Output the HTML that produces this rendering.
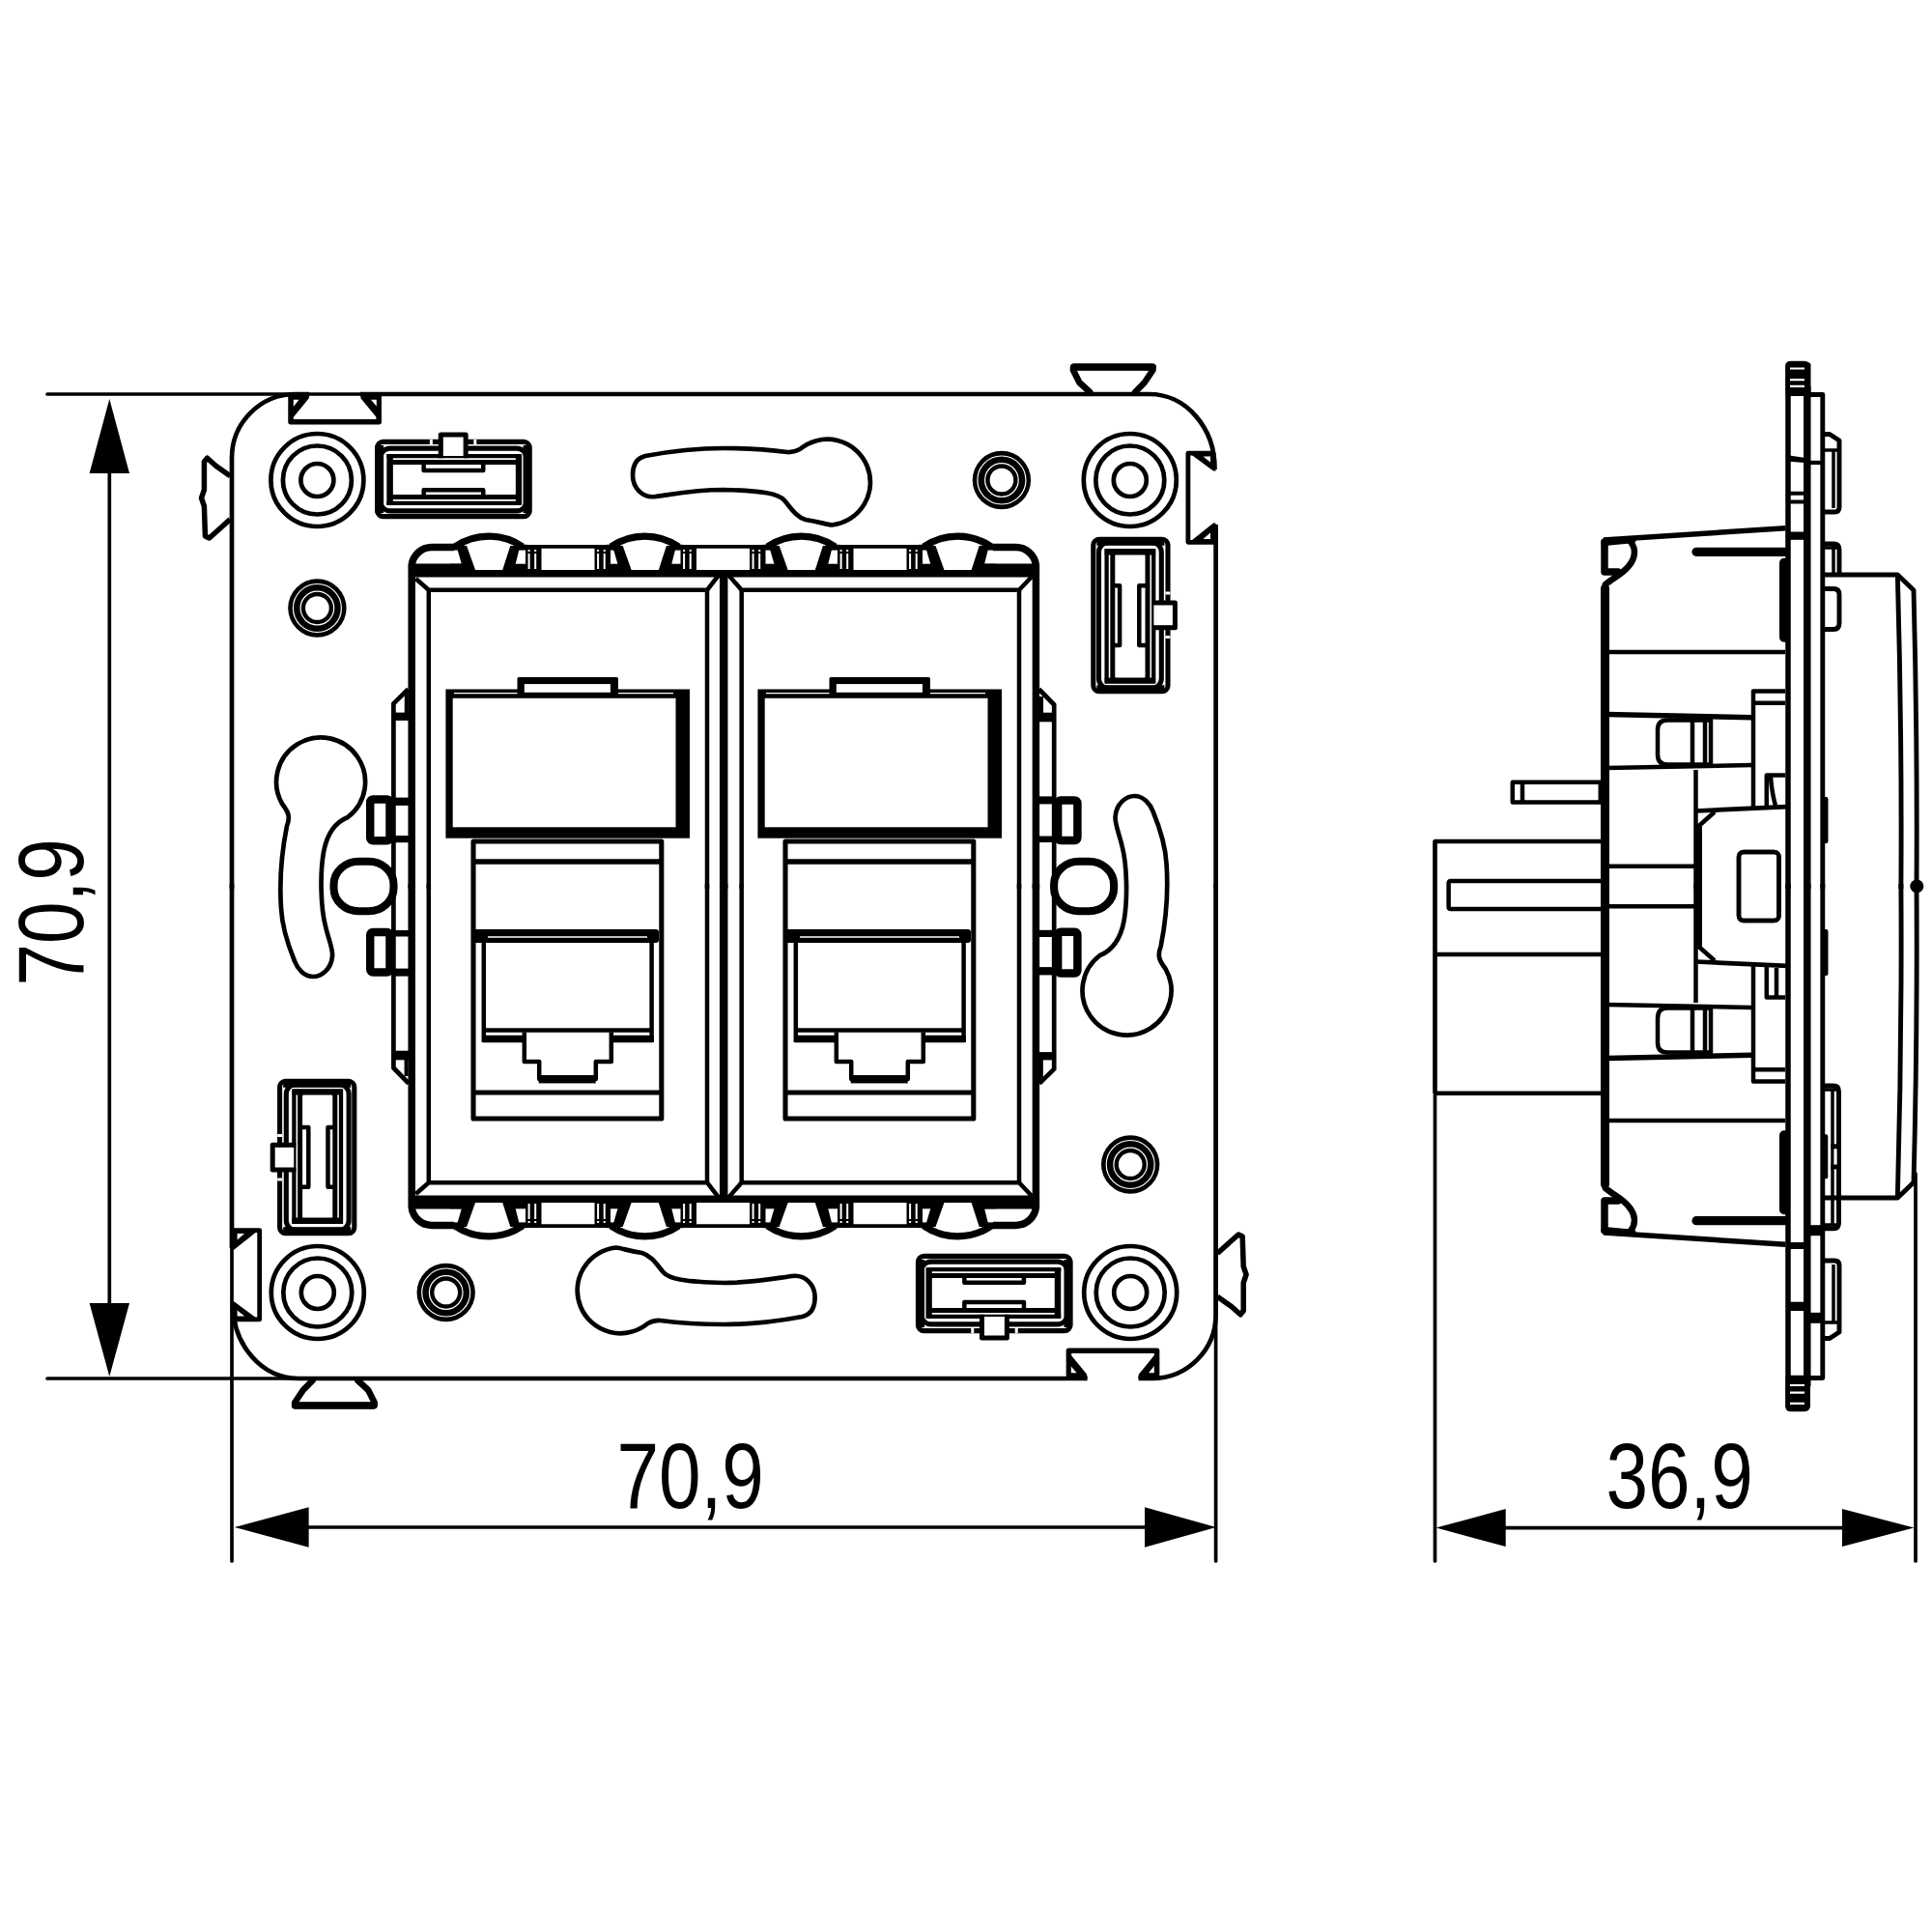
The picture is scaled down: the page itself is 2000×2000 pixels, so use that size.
<!DOCTYPE html>
<html><head><meta charset="utf-8"><style>
html,body{margin:0;padding:0;background:#fff;}
svg{display:block;}
text{font-family:"Liberation Sans",sans-serif;}
</style></head><body>
<svg width="2000" height="2000" viewBox="0 0 2000 2000">
<style>g,line,path,rect,circle,polygon,use{} .f{fill:#000;}</style>
<g fill="none" stroke="#000" stroke-width="4.7" stroke-linejoin="round">
<defs><g id="conn"><rect x="-38.6" y="-78.7" width="77.2" height="157.5" rx="6" stroke-width="5.10"/><rect x="-32.9" y="-75.5" width="64.8" height="151" rx="10" stroke-width="5.10"/><rect class="f" stroke="none" x="-35" y="-81" width="70" height="8.8"/><rect class="f" stroke="none" x="-35" y="72.2" width="70" height="8.8"/><path d="M-24.8 -69 V70 M23.8 -69 V70" stroke-width="4.30"/><rect x="-18.6" y="-66" width="36.2" height="133.6" rx="4" stroke-width="5.00"/><rect class="f" stroke="none" x="-26.7" y="-69" width="52.4" height="6.5"/><rect class="f" stroke="none" x="-26.7" y="64.5" width="52.4" height="6.3"/><path d="M-18.6 -30.7 H-11.3 V30.9 H-18.6 M17.6 -30.7 H8.9 V30.9 H17.6" stroke-width="4.50"/><rect fill="#fff" stroke="none" x="24" y="-11" width="22" height="21.6"/><path d="M21.8 -13.1 H46 V12.8 H21.8" stroke-width="5.00"/><rect fill="#fff" stroke="none" x="36" y="-24.5" width="5" height="3"/><rect fill="#fff" stroke="none" x="36" y="21" width="5" height="3"/></g></defs><g id="ph"><path d="M240 920 L240 474 A66 66 0 0 1 306 408 L320 408 M373 408 L1190 408 A67.5 77 0 0 1 1257.5 486"/><path d="M1258.6 543 L1258.6 920"/><path d="M1257 469.2 L1229.9 469.2 L1229.9 561.3 L1257 561.3" stroke-width="4.80"/><polygon class="f" stroke="none" points="1231,469 1258.5,469 1258.5,487.5 1256,487.5"/><polygon fill="#fff" stroke="none" points="1245.5,472.5 1253,472.5 1253,478.5"/><polygon class="f" stroke="none" points="1231,561.5 1258.5,561.5 1258.5,541.5 1256,541.5"/><polygon fill="#fff" stroke="none" points="1245.5,558 1253,558 1253,551.5"/><path d="M301 408 L301 436.8 L392.2 436.8 L392.2 408" stroke-width="5.50"/><polygon class="f" stroke="none" points="301,408 320.5,408 319.6,412.5 303.7,432 301,432"/><polygon fill="#fff" stroke="none" points="303.8,413.8 309.5,413.8 303.8,421"/><polygon class="f" stroke="none" points="392.2,408 373,408 373.6,412.5 389.7,432 392.2,432"/><polygon fill="#fff" stroke="none" points="389.8,413.8 384,413.8 389.8,420.5"/><path d="M1128.3 406 L1117.4 396 L1110.9 383 L1111 380 L1193.5 380 L1193.5 383 L1184.8 396 L1175 406" stroke-width="6.50" stroke-linecap="round"/><path d="M1112 380 H1193" stroke-width="7.50" stroke-linecap="round"/><path d="M238.3 492.8 L223.8 482.5 L214.5 474.2 L211.4 478 L211.4 507 L208.5 515.6 L211.4 524 L212.4 555 L216.6 557 L225.9 548.8 L238.3 537.4" stroke-width="5.50"/><circle cx="328.4" cy="497" r="48"/><circle cx="328.4" cy="497" r="35.5"/><circle cx="328.4" cy="497" r="17"/><circle cx="1169.8" cy="497" r="48"/><circle cx="1169.8" cy="497" r="35.5"/><circle cx="1169.8" cy="497" r="17"/><circle class="f" cx="328.4" cy="629.5" r="30.2" stroke="none"/><circle cx="328.4" cy="629.5" r="12.3" fill="#fff" stroke="none"/><circle cx="328.4" cy="629.5" r="25" stroke="#fff" stroke-width="1.2"/><circle cx="328.4" cy="629.5" r="17.3" stroke="#fff" stroke-width="1.2"/><circle class="f" cx="1036.9" cy="497" r="30.2" stroke="none"/><circle cx="1036.9" cy="497" r="12.3" fill="#fff" stroke="none"/><circle cx="1036.9" cy="497" r="25" stroke="#fff" stroke-width="1.2"/><circle cx="1036.9" cy="497" r="17.3" stroke="#fff" stroke-width="1.2"/><use href="#conn" transform="translate(469.35 496) rotate(-90)"/><use href="#conn" transform="translate(1170.4 637)"/><path d="M668 472 C700 466 730 464 749 464 C775 464 800 466 815 468 C820 468.5 824 467 828 465 A44.5 44.5 0 1 1 861 543.5 C855 543 848 540 834 538 C824 535 818 525 812 518 C806 511 790 508 749 507 C720 507 700 511 679 514 C665 516 655 505 655 492 C655 480 660 474 668 472 Z"/><path d="M297 855 C301 845 298 840 292 832 A46 46 0 1 1 360 846 C345 852 338 866 335 882 C331 905 332 940 337 959 C340 972 345 983 344 990 C343 1003 333 1011 324 1011 C315 1011 308 1003 305 995 C298 978 292 960 291 940 C289 910 292 880 297 855 Z"/><path d="M423 1121.5 L407.4 1105.5 L407.4 728.3 L422.6 713.3" stroke-width="4.70"/><line x1="420.6" y1="1096" x2="420.6" y2="1114" stroke-width="4.10"/><line x1="420.8" y1="714" x2="420.8" y2="738" stroke-width="4.10"/><rect class="f" stroke="none" x="406" y="737.6" width="19" height="8.299999999999955"/><rect class="f" stroke="none" x="406" y="825.6" width="19" height="8.299999999999955"/><rect class="f" stroke="none" x="406" y="865" width="19" height="7.2000000000000455"/><rect class="f" stroke="none" x="406" y="963" width="19" height="6.5"/><rect class="f" stroke="none" x="406" y="1002.6" width="19" height="8.0"/><rect class="f" stroke="none" x="406" y="1087.7" width="19" height="9.599999999999909"/><rect x="383.2" y="827.5" width="20.3" height="42.799999999999955" rx="3" stroke-width="8.50"/><rect x="383.2" y="965" width="20.3" height="41.60000000000002" rx="3" stroke-width="8.50"/><rect x="345.5" y="891.8" width="62" height="51.4" rx="26" ry="24" stroke-width="8.10"/></g><use href="#ph" transform="rotate(180 749.3 917.5)"/><g id="fr"><path d="M426.2 920 V585 A21 21 0 0 1 447 566.6 H470" stroke-width="7.50"/><path d="M1072.4 920 V585 A21 21 0 0 0 1051.6 566.6 H1028" stroke-width="7.50"/><line x1="544" y1="565.8" x2="629.5" y2="565.8" stroke-width="3.70"/><line x1="705.5" y1="565.8" x2="791.5" y2="565.8" stroke-width="3.70"/><line x1="867.5" y1="565.8" x2="953" y2="565.8" stroke-width="3.70"/><rect class="f" stroke="none" x="426" y="590" width="647" height="7.5"/><path d="M470.9 566 A62 62 0 0 1 540.9 566" stroke-width="7.20" fill="#fff"/><polygon class="f" stroke="none" points="472.4,565 483.09999999999997,565 492.4,591 479.9,591"/><polygon class="f" stroke="none" points="528.3,565 538.4,565 531.9,591 519.9,591"/><rect class="f" stroke="none" x="465.9" y="583.7" width="16" height="7.5"/><rect class="f" stroke="none" x="529.9" y="583.7" width="16" height="7.5"/><rect class="f" stroke="none" x="465.9" y="563.8" width="13" height="5.8"/><rect class="f" stroke="none" x="532.9" y="563.8" width="13" height="5.8"/><path d="M632.5 566 A62 62 0 0 1 702.5 566" stroke-width="7.20" fill="#fff"/><polygon class="f" stroke="none" points="634.0,565 644.7,565 654.0,591 641.5,591"/><polygon class="f" stroke="none" points="689.9,565 700.0,565 693.5,591 681.5,591"/><rect class="f" stroke="none" x="627.5" y="583.7" width="16" height="7.5"/><rect class="f" stroke="none" x="691.5" y="583.7" width="16" height="7.5"/><rect class="f" stroke="none" x="627.5" y="563.8" width="13" height="5.8"/><rect class="f" stroke="none" x="694.5" y="563.8" width="13" height="5.8"/><path d="M794.5 566 A62 62 0 0 1 864.5 566" stroke-width="7.20" fill="#fff"/><polygon class="f" stroke="none" points="796.0,565 806.7,565 816.0,591 803.5,591"/><polygon class="f" stroke="none" points="851.9,565 862.0,565 855.5,591 843.5,591"/><rect class="f" stroke="none" x="789.5" y="583.7" width="16" height="7.5"/><rect class="f" stroke="none" x="853.5" y="583.7" width="16" height="7.5"/><rect class="f" stroke="none" x="789.5" y="563.8" width="13" height="5.8"/><rect class="f" stroke="none" x="856.5" y="563.8" width="13" height="5.8"/><path d="M956.3 566 A62 62 0 0 1 1026.3 566" stroke-width="7.20" fill="#fff"/><polygon class="f" stroke="none" points="957.8,565 968.5,565 977.8,591 965.3,591"/><polygon class="f" stroke="none" points="1013.6999999999999,565 1023.8,565 1017.3,591 1005.3,591"/><rect class="f" stroke="none" x="951.3" y="583.7" width="16" height="7.5"/><rect class="f" stroke="none" x="1015.3" y="583.7" width="16" height="7.5"/><rect class="f" stroke="none" x="951.3" y="563.8" width="13" height="5.8"/><rect class="f" stroke="none" x="1018.3" y="563.8" width="13" height="5.8"/><rect class="f" stroke="none" x="426" y="583.5" width="60" height="8"/><rect class="f" stroke="none" x="1013" y="583.5" width="60" height="8"/><rect class="f" stroke="none" x="544" y="566" width="16.5" height="25"/><path d="M547.6 573 V589 M554.2 573 V589 M547.6 569 V571 M554.2 569 V571" stroke="#fff" stroke-width="2"/><rect class="f" stroke="none" x="615.5" y="566" width="16.5" height="25"/><path d="M619.1 573 V589 M625.7 573 V589 M619.1 569 V571 M625.7 569 V571" stroke="#fff" stroke-width="2"/><rect class="f" stroke="none" x="704.5" y="566" width="16.5" height="25"/><path d="M708.1 573 V589 M714.7 573 V589 M708.1 569 V571 M714.7 569 V571" stroke="#fff" stroke-width="2"/><rect class="f" stroke="none" x="776" y="566" width="16.5" height="25"/><path d="M779.6 573 V589 M786.2 573 V589 M779.6 569 V571 M786.2 569 V571" stroke="#fff" stroke-width="2"/><rect class="f" stroke="none" x="867" y="566" width="16.5" height="25"/><path d="M870.6 573 V589 M877.2 573 V589 M870.6 569 V571 M877.2 569 V571" stroke="#fff" stroke-width="2"/><rect class="f" stroke="none" x="938.5" y="566" width="16.5" height="25"/><path d="M942.1 573 V589 M948.7 573 V589 M942.1 569 V571 M948.7 569 V571" stroke="#fff" stroke-width="2"/><path d="M430.4 599 L443.8 610.8 H732 L745 594" stroke-width="4.50"/><path d="M753 594 L767.7 610.8 H1055 L1068 597" stroke-width="4.50"/><path d="M443.8 610.8 V920 M732 609 V920 M767.7 609 V920 M1055 609 V920" stroke-width="4.50"/><line x1="749.2" y1="594" x2="749.2" y2="920" stroke-width="8.50"/></g><use href="#fr" transform="matrix(1 0 0 -1 0 1835.0)"/><g id="mc"><rect class="f" stroke="none" x="461.4" y="713.5" width="252.6" height="154.2"/><rect fill="#fff" stroke="none" x="468.7" y="722.8" width="230.8" height="133.5"/><path d="M470 717.6 H536 M640 717.6 H697" stroke="#fff" stroke-width="1.4"/><rect class="f" stroke="none" x="535.5" y="701" width="104.4" height="21" rx="1.5"/><rect fill="#fff" stroke="none" x="542.8" y="708.1" width="89.1" height="8.7"/><path d="M490 1158 V871 H684.8 V1158 Z" stroke-width="5.10"/><line x1="490" y1="892" x2="684.8" y2="892" stroke-width="5.50"/><line x1="490" y1="1131" x2="684.8" y2="1131" stroke-width="4.90"/><rect class="f" stroke="none" x="490" y="962" width="192" height="14" rx="3"/><path d="M505 970 H670" stroke="#fff" stroke-width="1.6"/><path d="M500.8 976 V1079 M674.6 976 V1079 M500.8 1066.6 H674.6" stroke-width="4.50"/><rect class="f" stroke="none" x="499" y="1071.8" width="44.8" height="7.4" rx="1.5"/><rect class="f" stroke="none" x="631.2" y="1071.8" width="45.5" height="7.4" rx="1.5"/><path d="M542.8 1068.6 V1099 H558.2 V1117 H616.8 V1099 H632.8 V1068.6" stroke-width="4.50"/><rect class="f" stroke="none" x="557.7" y="1113" width="59" height="8.4"/></g><use href="#mc" transform="translate(323 0)"/><g id="sv"><path d="M1851 920 V379 Q1851 376.5 1854 376.5 L1868 376.5 Q1871 376.5 1871 380 V920" stroke-width="5.50"/><line x1="1870.8" y1="400" x2="1870.8" y2="920" stroke-width="7.50"/><path d="M1874 408.5 H1886.8 V920" stroke-width="4.90"/><path d="M1889 449.5 H1894 L1904 456 V525 Q1904 530 1899 530 H1889" stroke-width="4.90"/><path d="M1898 466 V526 M1889 466 H1903" stroke-width="3.50"/><path d="M1889 595 H1964.4 L1981 611 Q1985 760 1984 920" stroke-width="4.90"/><path d="M1964.4 597 Q1969 760 1967.9 920" stroke-width="4.90"/><path d="M1660 559 L1848.4 546.7" stroke-width="5.50"/><path d="M1661.5 609 V920" stroke-width="9.00" stroke-linecap="round"/><path d="M1661 561 V592 H1675" stroke-width="7.50" stroke-linecap="round"/><path d="M1688 561 C1694 568 1693 578 1686 586 C1680 594 1670 598 1662 605" stroke-width="6.50" stroke-linecap="round"/><path d="M1661 561.5 L1690 558.8" stroke-width="7.00" stroke-linecap="round"/><line x1="1756" y1="571.3" x2="1848" y2="571.3" stroke-width="9.20" stroke-linecap="round"/><rect class="f" stroke="none" x="1842" y="577.7" width="10.6" height="87" rx="5"/><line x1="1664" y1="675" x2="1848" y2="675" stroke-width="4.50"/><path d="M1848 715.4 H1815 V839 M1815 727.8 H1848" stroke-width="4.50"/><path d="M1663 739.5 L1814 742.8" stroke-width="5.50"/><path d="M1752 745.5 H1726 Q1716 745.5 1716 755.5 V781 Q1716 791.5 1726 791.5 H1771 V745.5 Z M1752 745.5 V791 M1765 745.5 V791" stroke-width="4.50"/><path d="M1663 795 L1814 792" stroke-width="4.50"/><line x1="1755.5" y1="797" x2="1755.5" y2="920" stroke-width="4.50"/><path d="M1828.8 836 V802.5 H1848" stroke-width="4.50"/><path d="M1755.5 839.5 L1850 835.2" stroke-width="4.70"/><path d="M1758 920 V855.3" stroke-width="8.00"/><path d="M1757.5 856 L1775 840.5" stroke-width="4.50"/><path d="M1665 896.7 H1755" stroke-width="4.50"/><rect x="1800" y="882" width="41.5" height="71" rx="5" stroke-width="4.50"/></g><use href="#sv" transform="matrix(1 0 0 -1 0 1835.0)"/><path d="M1833 804 Q1834 820 1838 834" stroke-width="4.50"/><line x1="1839" y1="1002" x2="1839" y2="1031" stroke-width="4.50"/><path d="M1889 563 H1898 Q1904 563 1904 569 V593" stroke-width="4.90"/><path d="M1898 565 V593 M1889 567 H1903" stroke-width="3.50"/><path d="M1889 609.5 H1898 Q1904 609.5 1904 615.5 V645 Q1904 651.5 1898 651.5 H1889" stroke-width="4.90"/><path d="M1889 1124 H1898 Q1903.5 1124 1903.5 1130 V1266 Q1903.5 1271.8 1898 1271.8 H1889" stroke-width="4.90"/><path d="M1897 1127 V1269 M1889 1128 H1902 M1889 1268 H1902" stroke-width="3.50"/><rect class="f" stroke="none" x="1895.4" y="1184.3" width="10" height="5"/><rect class="f" stroke="none" x="1895.4" y="1205.4" width="10" height="5"/><rect fill="#fff" stroke="none" x="1898.6" y="1189.5" width="3" height="15.8"/><rect class="f" stroke="none" x="1887.5" y="1174.3" width="4.8" height="46" rx="2"/><rect class="f" stroke="none" x="1887.5" y="825" width="5" height="48" rx="2"/><rect class="f" stroke="none" x="1887.5" y="962" width="5" height="48" rx="2"/><rect class="f" stroke="none" x="1848.5" y="375.5" width="26" height="34.5" rx="2"/><path d="M1853 381.5 H1868 M1853 393.1 H1868 M1853 399.8 H1868" stroke="#fff" stroke-width="2.2"/><polygon class="f" stroke="none" points="1849,471 1871,474.3 1871,479.3 1849,477.6"/><rect class="f" stroke="none" x="1871" y="476.8" width="16" height="4.2"/><path d="M1851 510.7 H1870 M1851 519.5 H1870" stroke-width="4.10"/><rect class="f" stroke="none" x="1849" y="550.5" width="22" height="8.3"/><rect class="f" stroke="none" x="1848.5" y="1423.8" width="25.5" height="34" rx="2"/><path d="M1853 1434 H1868 M1853 1441.7 H1868 M1853 1452.8 H1868" stroke="#fff" stroke-width="2.2"/><rect class="f" stroke="none" x="1849" y="1286" width="22" height="7"/><rect class="f" stroke="none" x="1849" y="1347.7" width="22" height="9.3"/><rect class="f" stroke="none" x="1871" y="1268.2" width="16" height="11"/><rect class="f" stroke="none" x="1871" y="1358.8" width="16" height="11"/><circle class="f" stroke="none" cx="1984.3" cy="917.4" r="7"/><rect x="1565.8" y="809.7" width="91" height="20.8" stroke-width="4.50"/><line x1="1576" y1="810" x2="1576" y2="830" stroke-width="4.50"/><path d="M1485.5 1131.8 V871 H1657 M1485.5 1131.8 H1657" stroke-width="4.50"/><path d="M1657 912 H1502 Q1499.6 912 1499.6 914.5 V938.5 Q1499.6 941 1502 941 H1657" stroke-width="4.50"/><line x1="1485.5" y1="988" x2="1657" y2="988" stroke-width="4.50"/><g stroke-width="3.7" stroke-linecap="round"><line x1="49" y1="408" x2="400" y2="408"/><line x1="49" y1="1427" x2="1123" y2="1427"/><line x1="113.3" y1="440" x2="113.3" y2="1400"/><polygon class="f" stroke="none" points="113.3,413 92.6,490 134,490"/><polygon class="f" stroke="none" points="113.3,1425 92.6,1349 134,1349"/><line x1="240" y1="1290" x2="240" y2="1616"/><line x1="1258.6" y1="1300" x2="1258.6" y2="1616"/><line x1="270" y1="1581" x2="1230" y2="1581"/><polygon class="f" stroke="none" points="242.7,1581 319.6,1560.2 319.6,1601.8"/><polygon class="f" stroke="none" points="1259,1581 1185,1560.2 1185,1601.8"/><line x1="1485.5" y1="871" x2="1485.5" y2="1616"/><line x1="1983" y1="1215" x2="1983" y2="1616"/><line x1="1510" y1="1581.6" x2="1950" y2="1581.6"/><polygon class="f" stroke="none" points="1486.6,1581.6 1558.7,1562 1558.7,1601"/><polygon class="f" stroke="none" points="1981.4,1581.6 1907,1562 1907,1601"/></g>
</g>
<g fill="#000">
<text x="0" y="0" font-size="95.5" transform="translate(638.5 1560.5) scale(0.82 1)">70,9</text>
<text x="0" y="0" font-size="95.5" transform="translate(1662.5 1560.8) scale(0.82 1)">36,9</text>
<text x="0" y="0" font-size="95.5" transform="translate(85.8 1020.5) rotate(-90) scale(0.82 1)">70,9</text>
</g>
</svg>
</body></html>
